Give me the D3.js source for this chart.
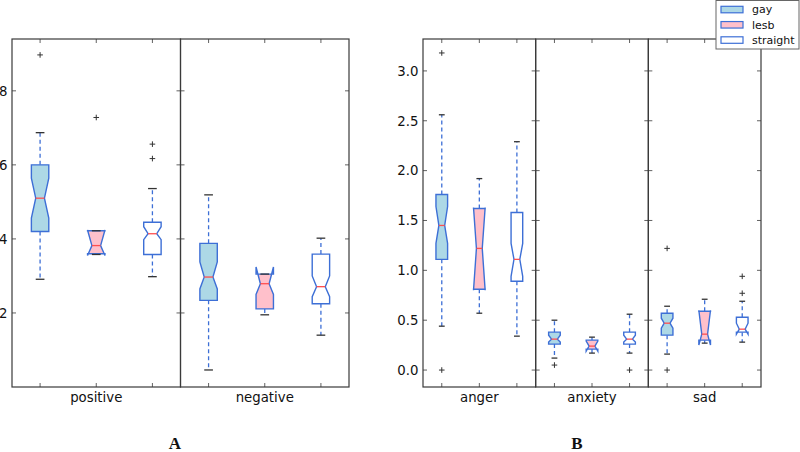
<!DOCTYPE html>
<html><head><meta charset="utf-8">
<script src="https://cdn.jsdelivr.net/npm/d3@7"></script>
<style>body{margin:0;background:#fff}svg{display:block}</style>
</head><body>
<svg id="c" width="800" height="452"></svg>
<script>
// ---------- data ----------
const groups = ["gay", "lesb", "straight"];
const categoriesA = ["positive", "negative"];
const categoriesB = ["anger", "anxiety", "sad"];
const ticksA = [2, 4, 6, 8];
const ticksB = [0.0, 0.5, 1.0, 1.5, 2.0, 2.5, 3.0];
const panelLabels = ["A", "B"];

// per category -> [gay, lesb, straight]
const whiskerLow = {
  positive: [2.91, 3.58, 2.98], negative: [0.46, 1.95, 1.40],
  anger: [0.44, 0.57, 0.34], anxiety: [0.12, 0.17, 0.17], sad: [0.16, 0.27, 0.28]
};
const q1 = {
  positive: [4.20, 3.60, 3.58], negative: [2.34, 2.11, 2.25],
  anger: [1.11, 0.81, 0.89], anxiety: [0.26, 0.21, 0.26], sad: [0.35, 0.30, 0.38]
};
const notchLow = {
  positive: [4.56, 3.55, 3.98], negative: [2.65, 2.50, 2.44],
  anger: [1.27, 0.80, 0.94], anxiety: [0.28, 0.19, 0.28], sad: [0.42, 0.25, 0.36]
};
const median = {
  positive: [5.10, 3.82, 4.14], negative: [2.97, 2.79, 2.71],
  anger: [1.45, 1.22, 1.11], anxiety: [0.31, 0.24, 0.31], sad: [0.47, 0.36, 0.41]
};
const notchHigh = {
  positive: [5.64, 4.24, 4.33], negative: [3.38, 3.24, 3.00],
  anger: [1.64, 1.63, 1.27], anxiety: [0.35, 0.29, 0.35], sad: [0.52, 0.60, 0.47]
};
const q3 = {
  positive: [6.00, 4.22, 4.45], negative: [3.88, 3.05, 3.59],
  anger: [1.76, 1.62, 1.58], anxiety: [0.38, 0.30, 0.38], sad: [0.57, 0.59, 0.53]
};
const whiskerHigh = {
  positive: [6.87, 4.22, 5.36], negative: [5.19, 3.05, 4.02],
  anger: [2.56, 1.92, 2.29], anxiety: [0.50, 0.33, 0.56], sad: [0.64, 0.71, 0.69]
};
const outliers = {
  positive: [[8.97], [7.28], [6.17, 6.56]], negative: [[], [], []],
  anger: [[0.0, 3.18], [], []], anxiety: [[0.05], [], [0.0]], sad: [[0.0, 1.22], [], [0.77, 0.94]]
};

// ---------- style ----------
const fills = {gay: "#add8e6", lesb: "#ffc0cb", straight: "#ffffff"};
const edge = "#3d6fd6";
const medColor = "#ff4f4f";
const capColor = "#333";
const frameColor = "#3a3a3a";
const font = "'DejaVu Sans', sans-serif";

const svg = d3.select("#c");

const panels = [
  {cats: categoriesA, x0: 12, x1: 349, y0: 39, y1: 387, domain: [0, 9.4], ticks: ticksA, fmt: d3.format("d"), label: panelLabels[0], labelX: 175},
  {cats: categoriesB, x0: 423, x1: 761, y0: 39, y1: 387, domain: [-0.17, 3.32], ticks: ticksB, fmt: d3.format(".1f"), label: panelLabels[1], labelX: 577}
];

panels.forEach(p => {
  const y = d3.scaleLinear().domain(p.domain).range([p.y1, p.y0]);
  const sect = d3.scaleBand().domain(p.cats).range([p.x0, p.x1]);
  const g = svg.append("g");

  // y tick labels
  g.selectAll("text.yt").data(p.ticks).enter().append("text")
    .attr("x", p.x0 - 4.5).attr("y", d => y(d)).attr("dy", "0.36em")
    .attr("text-anchor", "end").attr("font-family", font).attr("font-size", 13.3)
    .attr("fill", "#111").text(d => p.fmt(d));

  p.cats.forEach(cat => {
    const sx0 = sect(cat), sx1 = sx0 + sect.bandwidth();
    const x = d3.scalePoint().domain(groups).range([sx0, sx1]).padding(0.5);
    const bw = x.step() * 0.31;
    const sg = g.append("g");

    // ticks inward: left/right at y ticks
    p.ticks.forEach(t => {
      sg.append("line").attr("x1", sx0).attr("x2", sx0 + 4).attr("y1", y(t)).attr("y2", y(t)).attr("stroke", frameColor).attr("stroke-width", 0.8);
      sg.append("line").attr("x1", sx1).attr("x2", sx1 - 4).attr("y1", y(t)).attr("y2", y(t)).attr("stroke", frameColor).attr("stroke-width", 0.8);
    });
    groups.forEach(gr => {
      sg.append("line").attr("x1", x(gr)).attr("x2", x(gr)).attr("y1", p.y0).attr("y2", p.y0 + 4).attr("stroke", frameColor).attr("stroke-width", 0.8);
      sg.append("line").attr("x1", x(gr)).attr("x2", x(gr)).attr("y1", p.y1).attr("y2", p.y1 - 4).attr("stroke", frameColor).attr("stroke-width", 0.8);
    });

    groups.forEach((gr, i) => {
      const cx = x(gr);
      const L = cx - bw / 2, R = cx + bw / 2, cl = cx - bw / 4, cr = cx + bw / 4;
      const Q1 = y(q1[cat][i]), Q3 = y(q3[cat][i]), M = y(median[cat][i]);
      const NL = y(notchLow[cat][i]), NH = y(notchHigh[cat][i]);
      const WL = y(whiskerLow[cat][i]), WH = y(whiskerHigh[cat][i]);
      // whiskers (dashed)
      sg.append("line").attr("x1", cx).attr("x2", cx).attr("y1", Q3).attr("y2", WH)
        .attr("stroke", edge).attr("stroke-width", 1.3).attr("stroke-dasharray", "4,3");
      sg.append("line").attr("x1", cx).attr("x2", cx).attr("y1", Q1).attr("y2", WL)
        .attr("stroke", edge).attr("stroke-width", 1.3).attr("stroke-dasharray", "4,3");
      // notched box
      const pts = [[L, Q1], [R, Q1], [R, NL], [cr, M], [R, NH], [R, Q3], [L, Q3], [L, NH], [cl, M], [L, NL], [L, Q1]];
      sg.append("path").attr("d", d3.line()(pts) + "Z")
        .attr("fill", fills[gr]).attr("stroke", edge).attr("stroke-width", 1.4).attr("stroke-linejoin", "miter");
      // median
      sg.append("line").attr("x1", cl).attr("x2", cr).attr("y1", M).attr("y2", M)
        .attr("stroke", medColor).attr("stroke-width", 1.3);
      // caps
      [WL, WH].forEach(v => sg.append("line").attr("x1", cx - bw / 4).attr("x2", cx + bw / 4)
        .attr("y1", v).attr("y2", v).attr("stroke", capColor).attr("stroke-width", 1.3));
      // fliers
      outliers[cat][i].forEach(o => {
        const oy = y(o);
        sg.append("path").attr("d", `M${cx - 2.8},${oy}H${cx + 2.8}M${cx},${oy - 2.8}V${oy + 2.8}`)
          .attr("stroke", "#333").attr("stroke-width", 1);
      });
    });

    // frame
    sg.append("rect").attr("x", sx0).attr("y", p.y0).attr("width", sx1 - sx0).attr("height", p.y1 - p.y0)
      .attr("fill", "none").attr("stroke", frameColor).attr("stroke-width", 1.2);

    // category label
    sg.append("text").attr("x", (sx0 + sx1) / 2).attr("y", 402).attr("text-anchor", "middle")
      .attr("font-family", font).attr("font-size", 13.3).attr("fill", "#111").text(cat);
  });

  svg.append("text").attr("x", p.labelX).attr("y", 449).attr("text-anchor", "middle")
    .attr("font-family", "'Liberation Serif', 'Times New Roman', serif").attr("font-weight", "bold")
    .attr("font-size", 17).attr("fill", "#111").text(p.label);
});

// legend
const lg = svg.append("g");
lg.append("rect").attr("x", 716).attr("y", 0.5).attr("width", 83).attr("height", 48.5)
  .attr("fill", "#fff").attr("stroke", "#666").attr("stroke-width", 1);
const ly = d3.scalePoint().domain(groups).range([9.5, 40]);
groups.forEach(gr => {
  lg.append("rect").attr("x", 721).attr("y", ly(gr) - 3.2).attr("width", 22).attr("height", 6.5)
    .attr("fill", fills[gr]).attr("stroke", edge).attr("stroke-width", 1.2);
  lg.append("text").attr("x", 752).attr("y", ly(gr)).attr("dy", "0.35em")
    .attr("font-family", font).attr("font-size", 11).attr("fill", "#111").text(gr);
});
</script>
</body></html>
